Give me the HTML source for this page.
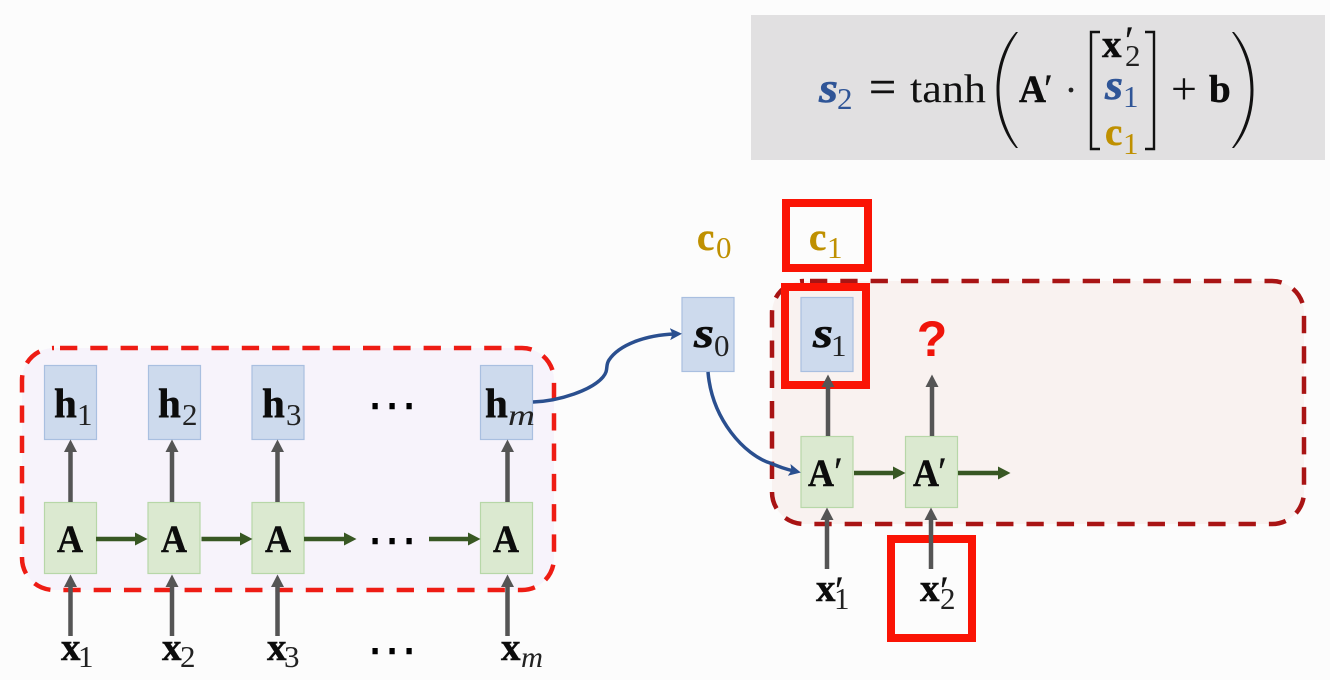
<!DOCTYPE html>
<html>
<head>
<meta charset="utf-8">
<style>
html,body{margin:0;padding:0;background:#fcfcfc;width:1330px;height:680px;overflow:hidden}
svg{display:block}
text{font-family:"Liberation Serif",serif;fill:#0c0c0c}
.b{font-weight:bold;stroke:currentColor;stroke-width:.5px;color:#0c0c0c}
.i{font-weight:bold;font-style:italic;stroke:currentColor;stroke-width:.6px;color:#0c0c0c}
.m{font-size:39px}
.sub{font-size:31px;fill:#222}
.em{font-size:30px;font-style:italic;fill:#222}
.p{font-size:40px;fill:#111;stroke:#111;stroke-width:.3px}
.dots{font-family:"DejaVu Sans",sans-serif;font-size:51px;fill:#000;text-anchor:middle}
</style>
</head>
<body>
<svg width="1330" height="680" viewBox="0 0 1330 680" xmlns="http://www.w3.org/2000/svg">
<defs>
<marker id="g" markerUnits="userSpaceOnUse" markerWidth="14" markerHeight="14" refX="6" refY="7" orient="auto"><path d="M0 0.5L12.5 7L0 13.5z" fill="#555"/></marker>
<marker id="v" markerUnits="userSpaceOnUse" markerWidth="14" markerHeight="14" refX="6" refY="7" orient="auto"><path d="M0 0.5L12.5 7L0 13.5z" fill="#385723"/></marker>
<marker id="u" markerUnits="userSpaceOnUse" markerWidth="14" markerHeight="14" refX="5" refY="7" orient="auto"><path d="M0 1L12 7L0 13L2.5 7z" fill="#2a4f8f"/></marker>
</defs>
<rect width="1330" height="680" fill="#fcfcfc"/>

<!-- formula panel -->
<rect x="751" y="15" width="574" height="145" fill="#e1e0e1"/>
<text x="819" y="102" class="i" style="font-size:42px;fill:#2f5597;color:#2f5597" textLength="19" lengthAdjust="spacingAndGlyphs">s</text>
<text x="837" y="109" class="sub" style="fill:#2f5597">2</text>
<text x="869" y="103" style="font-size:48px;fill:#111;stroke:#111;stroke-width:.4px">=</text>
<text x="910" y="102" textLength="76" lengthAdjust="spacingAndGlyphs" style="font-size:40px;fill:#111">tanh</text>
<path d="M1018 32C1007 47 999.500 68 999.500 90C999.500 112 1007 133 1018 148L1016 148C1003 133 996.500 112 996.500 90C996.500 68 1003 47 1016 32z" fill="#111"/>
<text x="1019" y="102" class="b" style="font-size:39px" textLength="27" lengthAdjust="spacingAndGlyphs">A</text>
<text x="1044" y="102" class="p">′</text>
<circle cx="1071" cy="90" r="2.400" fill="#222"/>
<path d="M1100 32H1091V149H1100" fill="none" stroke="#111" stroke-width="2.400"/>
<path d="M1145 32H1154V149H1145" fill="none" stroke="#111" stroke-width="2.400"/>
<text x="1102" y="57" class="b m">x</text>
<text x="1125" y="54" class="p">′</text>
<text x="1125" y="66" class="sub">2</text>
<text x="1105" y="99" class="i" style="font-size:42px;fill:#2f5597;color:#2f5597" textLength="18" lengthAdjust="spacingAndGlyphs">s</text>
<text x="1123" y="107" class="sub" style="fill:#2f5597">1</text>
<text x="1105" y="145" class="b m" style="fill:#bf9000;color:#bf9000">c</text>
<text x="1123" y="154" class="sub" style="fill:#bf9000">1</text>
<text x="1171" y="104" style="font-size:46px;fill:#111">+</text>
<text x="1209" y="102" class="b m">b</text>
<path d="M1232 32C1243 47 1250.500 68 1250.500 90C1250.500 112 1243 133 1232 148L1234 148C1247 133 1253.500 112 1253.500 90C1253.500 68 1247 47 1234 32z" fill="#111"/>

<!-- groups -->
<rect x="22" y="348" width="532" height="242" rx="32" fill="#f7f3fb" stroke="#ee1c14" stroke-width="4.500" stroke-dasharray="17.300 13" stroke-dashoffset="-6"/>
<rect x="772" y="281" width="532" height="243" rx="32" fill="#f9f2f0" stroke="#a91414" stroke-width="4.500" stroke-dasharray="17.300 13" stroke-dashoffset="-6"/>

<!-- nodes -->
<g fill="#cddaed" stroke="#a9bfe0" stroke-width="1.200">
<rect x="44.500" y="365.500" width="52" height="74"/>
<rect x="148.500" y="365.500" width="52" height="74"/>
<rect x="252" y="365.500" width="52" height="74"/>
<rect x="480.500" y="365.500" width="52" height="74"/>
<rect x="682" y="297.500" width="52" height="74"/>
<rect x="801" y="297.500" width="52" height="74"/>
</g>
<g fill="#dbe9d0" stroke="#b7d7a8" stroke-width="1.200">
<rect x="44.500" y="502.500" width="52" height="71"/>
<rect x="148" y="502.500" width="52" height="71"/>
<rect x="252" y="502.500" width="52" height="71"/>
<rect x="480.500" y="502.500" width="52" height="71"/>
<rect x="801" y="436.500" width="52" height="71"/>
<rect x="905.500" y="436.500" width="52" height="71"/>
</g>

<!-- highlight boxes -->
<g fill="none" stroke="#fa1405" stroke-width="8">
<rect x="786" y="203" width="82" height="65"/>
<rect x="785" y="287" width="81" height="98"/>
<rect x="891" y="539" width="81" height="99"/>
</g>

<!-- gray arrows -->
<g stroke="#555" stroke-width="4.500" fill="none">
<path d="M70.500 502V446" marker-end="url(#g)"/>
<path d="M172 502V446" marker-end="url(#g)"/>
<path d="M277.500 502V446" marker-end="url(#g)"/>
<path d="M507.500 502V446" marker-end="url(#g)"/>
<path d="M70.500 636V581" marker-end="url(#g)"/>
<path d="M172 636V581" marker-end="url(#g)"/>
<path d="M277.500 636V581" marker-end="url(#g)"/>
<path d="M507.500 636V581" marker-end="url(#g)"/>
<path d="M828 436V381" marker-end="url(#g)"/>
<path d="M932 436V381" marker-end="url(#g)"/>
<path d="M827 569V514" marker-end="url(#g)"/>
<path d="M931 569V514" marker-end="url(#g)"/>
</g>
<!-- green arrows -->
<g stroke="#385723" stroke-width="4.500" fill="none">
<path d="M96 539H141" marker-end="url(#v)"/>
<path d="M201.500 539H246" marker-end="url(#v)"/>
<path d="M304 539H350" marker-end="url(#v)"/>
<path d="M429 539H474" marker-end="url(#v)"/>
<path d="M854 473H899" marker-end="url(#v)"/>
<path d="M958 473H1004" marker-end="url(#v)"/>
</g>
<!-- blue curves -->
<g stroke="#2a4f8f" stroke-width="3.500" fill="none">
<path d="M533 402C560 401 592 390 603 377C609 370 605 366 609 360C619 345 645 335 675 334" marker-end="url(#u)"/>
<path d="M708 372C712 420 745 455 770 463C780 467 785 469 794 471" marker-end="url(#u)"/>
</g>

<!-- labels -->
<text x="54" y="417" class="b" style="font-size:41px">h</text><text x="77" y="425" class="sub">1</text>
<text x="158" y="417" class="b" style="font-size:41px">h</text><text x="182" y="425" class="sub">2</text>
<text x="262" y="417" class="b" style="font-size:41px">h</text><text x="286" y="425" class="sub">3</text>
<text x="485" y="417" class="b" style="font-size:41px">h</text><text x="508" y="425" class="em" textLength="27" lengthAdjust="spacingAndGlyphs">m</text>

<text x="57" y="552" class="b" style="font-size:39px" textLength="26" lengthAdjust="spacingAndGlyphs">A</text>
<text x="161" y="552" class="b" style="font-size:39px" textLength="26" lengthAdjust="spacingAndGlyphs">A</text>
<text x="265" y="552" class="b" style="font-size:39px" textLength="26" lengthAdjust="spacingAndGlyphs">A</text>
<text x="493" y="552" class="b" style="font-size:39px" textLength="26" lengthAdjust="spacingAndGlyphs">A</text>

<text x="61" y="660" class="b m">x</text><text x="78" y="667" class="sub">1</text>
<text x="162" y="660" class="b m">x</text><text x="180" y="667" class="sub">2</text>
<text x="267" y="660" class="b m">x</text><text x="284" y="667" class="sub">3</text>
<text x="501" y="660" class="b m">x</text><text x="521" y="667" class="em" textLength="22" lengthAdjust="spacingAndGlyphs">m</text>

<text x="392" y="422" class="dots">⋯</text>
<text x="392" y="557" class="dots">⋯</text>
<text x="392" y="667" class="dots">⋯</text>

<text x="697" y="250" class="b m" style="fill:#bf9000;color:#bf9000">c</text><text x="716" y="258" class="sub" style="fill:#bf9000">0</text>
<text x="809" y="250" class="b m" style="fill:#bf9000;color:#bf9000">c</text><text x="827" y="258" class="sub" style="fill:#bf9000">1</text>
<text x="694" y="347" class="i" style="font-size:42px" textLength="20" lengthAdjust="spacingAndGlyphs">s</text><text x="714" y="356" class="sub">0</text>
<text x="813" y="347" class="i" style="font-size:42px" textLength="20" lengthAdjust="spacingAndGlyphs">s</text><text x="831" y="356" class="sub">1</text>

<text x="808" y="486" class="b" style="font-size:39px" textLength="26" lengthAdjust="spacingAndGlyphs">A</text><text x="834" y="485" class="p">′</text>
<text x="913" y="486" class="b" style="font-size:39px" textLength="26" lengthAdjust="spacingAndGlyphs">A</text><text x="938" y="485" class="p">′</text>

<text x="816" y="601" class="b m">x</text><text x="835" y="604" class="p">′</text><text x="834" y="609" class="sub">1</text>
<text x="920" y="601" class="b m">x</text><text x="940" y="604" class="p">′</text><text x="940" y="609" class="sub">2</text>

<text x="932" y="356" text-anchor="middle" style="font-family:'Liberation Sans',sans-serif;font-weight:bold;font-size:50px;fill:#f0140a">?</text>
</svg>
</body>
</html>
